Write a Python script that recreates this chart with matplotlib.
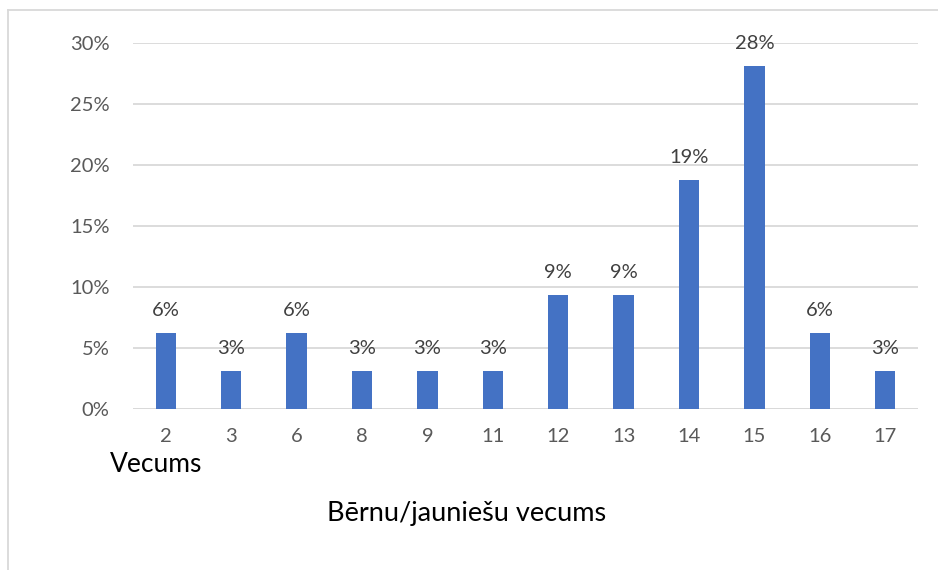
import matplotlib
matplotlib.use("Agg")
import matplotlib.pyplot as plt
from matplotlib.ticker import FuncFormatter

ages = ["2", "3", "6", "8", "9", "11", "12", "13", "14", "15", "16", "17"]
shares = [6.25, 3.125, 6.25, 3.125, 3.125, 3.125, 9.375, 9.375, 18.75, 28.125, 6.25, 3.125]
yticks = [0, 5, 10, 15, 20, 25, 30]

plt.rcParams['font.family'] = ['Lato', 'DejaVu Sans']

fig = plt.figure(figsize=(9.38, 5.70), dpi=100)
W, H = 938, 570
ax = fig.add_axes([133 / W, 1 - 409 / H, (918 - 133) / W, (409 - 42.7) / H])

x = list(range(len(ages)))
ax.bar(x, shares, width=0.31, color="#4472C4", zorder=3)
ax.set_xlim(-0.5, len(ages) - 0.5)
ax.set_ylim(0, 30)
ax.set_yticks(yticks)
ax.yaxis.set_major_formatter(FuncFormatter(lambda v, p: f"{v:.0f}%"))
ax.set_xticks(x)
ax.set_xticklabels(ages)
ax.grid(axis="y", color="#D9D9D9", linewidth=1.3, zorder=0)
for s in ax.spines.values():
    s.set_visible(False)
ax.axhline(0, color="#D9D9D9", linewidth=1.3, zorder=2)
ax.tick_params(axis="both", length=0, labelsize=14.5, labelcolor="#595959")
ax.tick_params(axis="y", pad=17)
ax.tick_params(axis="x", pad=14)

for xi, v in zip(x, shares):
    ax.annotate(f"{v:.0f}%", (xi, v), xytext=(0, 10), textcoords="offset points",
                ha="center", va="bottom", fontsize=14.5, color="#404040", zorder=4)

fig.text(156 / W, 1 - 465 / H, "Vecums", ha="center", va="center", fontsize=19, color="black")
fig.text(467 / W, 1 - 513 / H, "Bērnu/jauniešu vecums", ha="center", va="center", fontsize=19.5, color="black")

# outer chart border (left and top visible)
fig.add_artist(plt.Line2D([7.5 / W, 7.5 / W], [0, 1 - 9.5 / H], transform=fig.transFigure, color="#D9D9D9", linewidth=1.3))
fig.add_artist(plt.Line2D([7.5 / W, 1], [1 - 9.5 / H, 1 - 9.5 / H], transform=fig.transFigure, color="#D9D9D9", linewidth=1.3))

fig.savefig("out.png", dpi=100)
